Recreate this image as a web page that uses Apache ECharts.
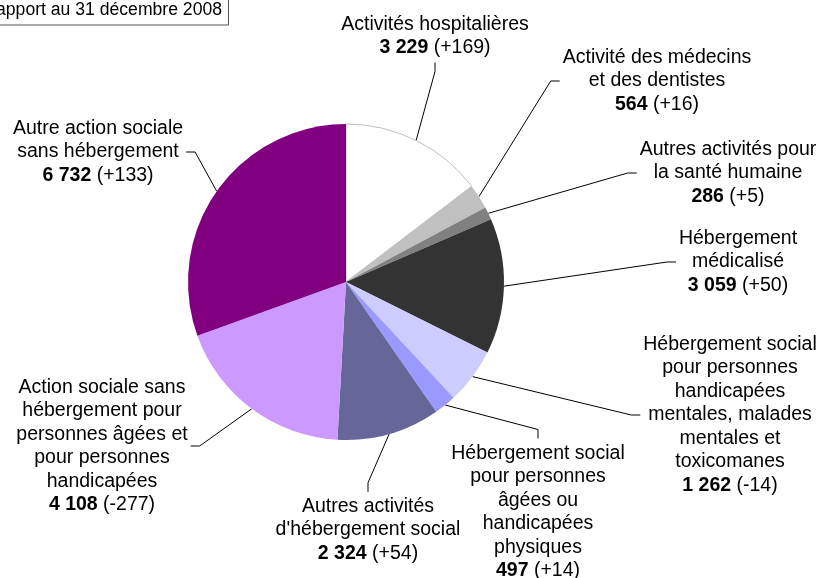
<!DOCTYPE html>
<html>
<head>
<meta charset="utf-8">
<script src="https://cdn.jsdelivr.net/npm/echarts@6/dist/echarts.min.js"></script>
<style>
  html, body { margin: 0; padding: 0; background: #fff; }
  #main { width: 819px; height: 578px; }
</style>
</head>
<body>
<div id="main"></div>
<script>
// secteurs (dans l'ordre du graphique, sens horaire depuis midi)
var categories = [
    'Activités hospitalières',
    'Activité des médecins\net des dentistes',
    'Autres activités pour\nla santé humaine',
    'Hébergement\nmédicalisé',
    'Hébergement social\npour personnes\nhandicapées\nmentales, malades\nmentales et\ntoxicomanes',
    'Hébergement social\npour personnes\nâgées ou\nhandicapées\nphysiques',
    'Autres activités\nd\'hébergement social',
    'Action sociale sans\nhébergement pour\npersonnes âgées et\npour personnes\nhandicapées',
    'Autre action sociale\nsans hébergement'
];
var effectifs = [3229, 564, 286, 3059, 1262, 497, 2324, 4108, 6732];
var evolutions = [169, 16, 5, 50, -14, 14, 54, -277, 133];
var colors = ['#ffffff', '#c0c0c0', '#808080', '#333333', '#ccccff', '#9999ff', '#666699', '#cc99ff', '#800080'];

// placement des étiquettes : centre du bloc + côté où arrive le trait
var labelPos = [[435, 36], [657, 81], [728, 173], [738, 262], [730, 415], [538, 512], [368, 530], [102, 446], [98, 152]];
var labelSide = ['bottom', 'left', 'left', 'left', 'left', 'top', 'top', 'right', 'right'];

function fmt(n) {
    return String(n).replace(/\B(?=(\d{3})+(?!\d))/g, ' ');
}

const chart = echarts.init(document.getElementById('main'), null, {renderer: 'canvas'});

var data = effectifs.map(function (v, i) {
    var item = {name: categories[i], value: v, itemStyle: {color: colors[i], borderWidth: 0}};
    if (i === 0) {
        item.itemStyle.borderColor = '#bfbfbf';
        item.itemStyle.borderWidth = 1;
    }
    return item;
});

chart.setOption({
    animation: false,
    backgroundColor: '#ffffff',
    graphic: [
        {
            type: 'rect',
            shape: {x: -5, y: -5, width: 233.5, height: 30},
            style: {fill: '#ffffff', stroke: '#555555', lineWidth: 1}
        },
        {
            type: 'text',
            x: 222, y: 10,
            style: {
                text: 'Rapport au 31 décembre 2008',
                font: '17.6px "Liberation Sans", Arial, sans-serif',
                fill: '#000000', align: 'right', verticalAlign: 'middle'
            }
        }
    ],
    series: [{
        type: 'pie',
        center: [346, 282],
        radius: 158,
        startAngle: 90,
        clockwise: true,
        avoidLabelOverlap: false,
        minShowLabelAngle: 0,
        emphasis: {disabled: true},
        data: data,
        label: {
            show: true,
            position: 'outside',
            color: '#000',
            fontFamily: '"Liberation Sans", Arial, sans-serif',
            fontSize: 19.5,
            lineHeight: 23.5,
            align: 'center',
            formatter: function (p) {
                var e = evolutions[p.dataIndex];
                return '{n|' + p.name + '}\n{b|' + fmt(p.value) + '} {n|(' + (e > 0 ? '+' : '') + e + ')}';
            },
            rich: {
                n: {fontSize: 19.5, lineHeight: 23.5, color: '#000', fontFamily: '"Liberation Sans", Arial, sans-serif'},
                b: {fontSize: 19.5, lineHeight: 23.5, color: '#000', fontWeight: 'bold', fontFamily: '"Liberation Sans", Arial, sans-serif'}
            }
        },
        labelLine: {
            show: true,
            length: 20,
            length2: 10,
            lineStyle: {color: '#000', width: 1}
        },
        labelLayout: function (p) {
            var i = p.dataIndex;
            var cx = labelPos[i][0], cy = labelPos[i][1];
            var w = p.labelRect.width, h = p.labelRect.height;
            var gap = 3, len2 = 9;
            var end, mid;
            if (labelSide[i] === 'left') {
                end = [cx - w / 2 - gap, cy];
                mid = [end[0] - len2, cy];
            } else if (labelSide[i] === 'right') {
                end = [cx + w / 2 + gap, cy];
                mid = [end[0] + len2, cy];
            } else if (labelSide[i] === 'top') {
                end = [cx, cy - h / 2 - gap];
                mid = [cx, end[1] - len2];
            } else {
                end = [cx, cy + h / 2 + gap];
                mid = [cx, end[1] + len2];
            }
            var anchor = p.labelLinePoints[0];
            return {
                x: cx, y: cy,
                align: 'center', verticalAlign: 'middle',
                labelLinePoints: [anchor, mid, end]
            };
        }
    }]
});
</script>
</body>
</html>
